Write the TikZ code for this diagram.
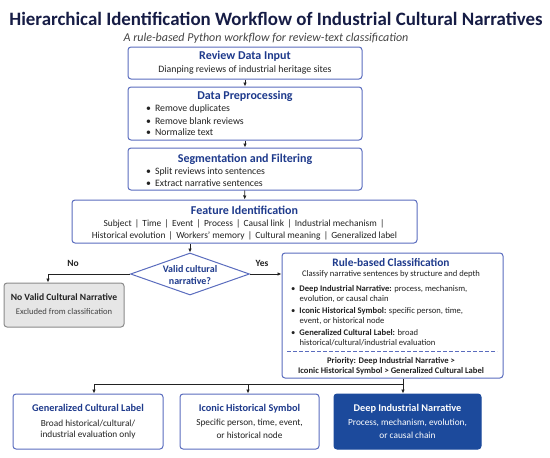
\documentclass[tikz,border=0pt]{standalone}
\usepackage{fontspec}
\setmainfont{Carlito}
\usetikzlibrary{arrows.meta,shapes.geometric}
\definecolor{titlec}{HTML}{161C45}
\definecolor{headc}{HTML}{1E3A8C}
\definecolor{edgec}{HTML}{5A6CBE}
\definecolor{darkbox}{HTML}{1C4A9C}
\definecolor{grayfill}{HTML}{E6E6E6}
\definecolor{grayedge}{HTML}{8A8A8A}
\definecolor{txt}{HTML}{222222}
\newcommand{\sepbar}{\hspace{3.2pt}|\hspace{3.2pt}}
\begin{document}
\begin{tikzpicture}[x=1pt,y=-1pt,
  box/.style={draw=edgec, line width=1pt, rounded corners=3pt, fill=white, inner sep=0pt},
  head/.style={font=\fontsize{12}{14}\selectfont\bfseries, text=headc, inner sep=0pt},
  body/.style={font=\fontsize{9.8}{11.5}\selectfont, text=txt, inner sep=0pt},
  small/.style={font=\fontsize{8.6}{10}\selectfont, text=txt, inner sep=0pt},
  conn/.style={draw=txt, line width=0.9pt},
  arr/.style={conn, -{Latex[length=4pt,width=3.6pt]}},
]
\useasboundingbox (0,0) rectangle (550,458);

% title
\node[font=\fontsize{18.9}{22}\selectfont\bfseries, text=titlec, inner sep=0pt] (title) at (276,19) {Hierarchical Identification Workflow of Industrial Cultural Narratives};
\node[font=\fontsize{12}{14}\selectfont\itshape, text=txt!85, inner sep=0pt] (sub) at (266,38) {A rule-based Python workflow for review-text classification};

% box 1
\node[box, minimum width=234pt, minimum height=32pt] (b1) at (245,63) {};
\node[head] (b1t) at (245,56.5) {Review Data Input};
\node[body] (b1s) at (245,70) {Dianping reviews of industrial heritage sites};

% box 2
\node[box, minimum width=234pt, minimum height=53pt] (b2) at (245,113.5) {};
\node[head] (b2t) at (245,96.7) {Data Preprocessing};
\node[body, anchor=west] (b2a) at (146,109) {\textbullet\hspace{4pt}Remove duplicates};
\node[body, anchor=west] (b2b) at (146,120.7) {\textbullet\hspace{4pt}Remove blank reviews};
\node[body, anchor=west] (b2c) at (146,132.3) {\textbullet\hspace{4pt}Normalize text};

% box 3
\node[box, minimum width=234pt, minimum height=42pt] (b3) at (245,169) {};
\node[head] (b3t) at (245,159) {Segmentation and Filtering};
\node[body, anchor=west] (b3a) at (146,171.7) {\textbullet\hspace{4pt}Split reviews into sentences};
\node[body, anchor=west] (b3b) at (146,183.3) {\textbullet\hspace{4pt}Extract narrative sentences};

% box 4
\node[box, minimum width=345pt, minimum height=43pt] (b4) at (244.5,221.5) {};
\node[head] (b4t) at (244.5,210) {Feature Identification};
\node[body, font=\fontsize{9.4}{11}\selectfont] (b4a) at (244,224) {Subject\sepbar Time\sepbar Event\sepbar Process\sepbar Causal link\sepbar Industrial mechanism\sepbar};
\node[body, font=\fontsize{9.4}{11}\selectfont] (b4b) at (244.5,235.5) {Historical evolution\sepbar Workers' memory\sepbar Cultural meaning\sepbar Generalized label};

% decision
\node[draw=edgec, line width=1pt, fill=white, diamond, aspect=2.83, minimum width=119pt, minimum height=42pt, inner sep=0pt] (dec) at (190,274) {};
\node[font=\fontsize{10}{12}\selectfont\bfseries, text=headc, align=center, inner sep=0pt] (dect) at (190,275) {Valid cultural\\narrative?};

% no box
\node[draw=grayedge, line width=1pt, fill=grayfill, rounded corners=3pt, minimum width=120pt, minimum height=44pt, inner sep=0pt] (no) at (64,305) {};
\node[font=\fontsize{9.6}{12}\selectfont\bfseries, text=txt, inner sep=0pt] (not) at (64,297) {No Valid Cultural Narrative};
\node[small, text=txt!85] (nos) at (64,311.7) {Excluded from classification};

% rule box
\node[box, minimum width=221pt, minimum height=125pt] (rule) at (392.5,315.5) {};
\node[head, font=\fontsize{11.4}{13}\selectfont\bfseries] (rulet) at (391,262.7) {Rule-based Classification};
\node[small] (rules) at (391,274.3) {Classify narrative sentences by structure and depth};
\node[small, anchor=west] (r1a) at (291,289) {\textbullet\hspace{4pt}\textbf{Deep Industrial Narrative:} process, mechanism,};
\node[small, anchor=west] (r1b) at (299.5,299) {evolution, or causal chain};
\node[small, anchor=west] (r2a) at (291,311) {\textbullet\hspace{4pt}\textbf{Iconic Historical Symbol:} specific person, time,};
\node[small, anchor=west] (r2b) at (299.5,321) {event, or historical node};
\node[small, anchor=west] (r3a) at (291,332.7) {\textbullet\hspace{4pt}\textbf{Generalized Cultural Label:} broad};
\node[small, anchor=west] (r3b) at (299.5,342.7) {historical/cultural/industrial evaluation};
\coordinate (dl) at (287,351.5);
\coordinate (dr) at (497,351.5);
\draw[draw=edgec, line width=0.9pt, dash pattern=on 3.5pt off 2.5pt] (dl) -- (dr);
\node[small, font=\fontsize{8.6}{10}\selectfont\bfseries] (p1) at (391,360.7) {Priority: Deep Industrial Narrative >};
\node[small, font=\fontsize{8.6}{10}\selectfont\bfseries] (p2) at (391,371.5) {Iconic Historical Symbol > Generalized Cultural Label};

% bottom boxes
\node[box, minimum width=150pt, minimum height=55pt] (ga) at (88,421.5) {};
\node[head, font=\fontsize{10.3}{13}\selectfont\bfseries] (gat) at (88,408.3) {Generalized Cultural Label};
\node[body, font=\fontsize{9.3}{11}\selectfont] (gas1) at (88,423.3) {Broad historical/cultural/};
\node[body, font=\fontsize{9.3}{11}\selectfont] (gas2) at (88,435) {industrial evaluation only};

\node[box, minimum width=139pt, minimum height=55pt] (gb) at (249.5,421.5) {};
\node[head, font=\fontsize{10.3}{13}\selectfont\bfseries] (gbt) at (249.5,408.3) {Iconic Historical Symbol};
\node[body, font=\fontsize{9.3}{11}\selectfont] (gbs1) at (249.5,423.3) {Specific person, time, event,};
\node[body, font=\fontsize{9.3}{11}\selectfont] (gbs2) at (249.5,435) {or historical node};

\node[box, fill=darkbox, draw=darkbox, minimum width=147pt, minimum height=55pt] (gc) at (407.5,421.5) {};
\node[head, font=\fontsize{10.3}{13}\selectfont\bfseries, text=white] (gct) at (407.5,408.3) {Deep Industrial Narrative};
\node[body, font=\fontsize{9.3}{11}\selectfont, text=white] (gcs1) at (407.5,423.3) {Process, mechanism, evolution,};
\node[body, font=\fontsize{9.3}{11}\selectfont, text=white] (gcs2) at (407.5,435) {or causal chain};

% connectors
\draw[arr] (b1) -- (b2);
\draw[arr] (b2) -- (b3);
\draw[arr] (b3) -- (b4);
\draw[arr] (b4.south -| dec.north) -- (dec.north);
\draw[arr] (dec.west) -| (no.north -| 48,0);
\node[font=\fontsize{9.5}{11}\selectfont\bfseries, text=txt, inner sep=0pt] (nolab) at (73,263) {No};
\draw[arr] (dec.east) -- (rule.west |- dec.east);
\node[font=\fontsize{9.5}{11}\selectfont\bfseries, text=txt, inner sep=0pt] (yeslab) at (262,263) {Yes};
\coordinate (j) at (403,384.5);
\coordinate (ja) at (94,384.5);
\coordinate (jb) at (248,384.5);
\draw[conn] (rule.south -| j) -- (j) -- (ja);
\draw[arr] (j) -- (gc.north -| j);
\draw[arr] (ja) -- (ga.north -| ja);
\draw[arr] (jb) -- (gb.north -| jb);
\end{tikzpicture}
\end{document}
